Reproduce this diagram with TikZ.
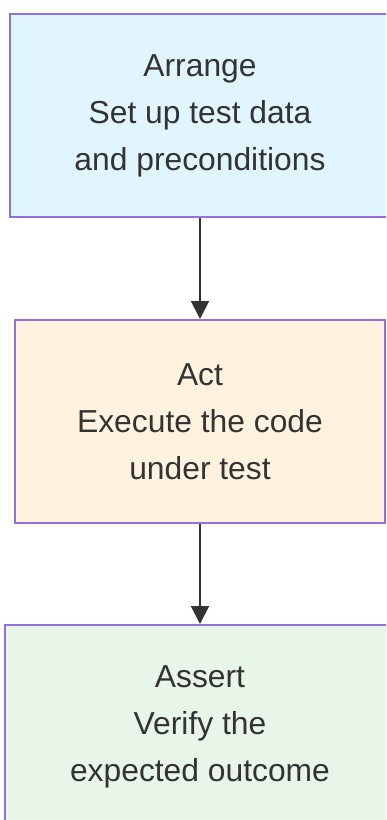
\documentclass[tikz,border=0pt]{standalone}
\usepackage{fontspec}
\setmainfont{Liberation Sans}
\usetikzlibrary{positioning, arrows.meta}
\definecolor{boxborder}{HTML}{9370DB}
\definecolor{arrangefill}{HTML}{E1F5FE}
\definecolor{actfill}{HTML}{FFF3E0}
\definecolor{assertfill}{HTML}{E8F5E9}
\definecolor{textgray}{HTML}{333333}

\begin{document}
\begin{tikzpicture}[x=0.5pt, y=-0.5pt,
    every node/.style={font=\fontsize{15.9}{23.5}\selectfont, align=center, text=textgray},
    stage/.style={draw=boxborder, line width=1pt, minimum height=101.5pt, inner sep=0pt},
    arrow/.style={-{Triangle[length=9pt, width=9pt]}, line width=1pt, draw=textgray},
    node distance=50.5pt
]
\clip (0,0) rectangle (386,820);
% stages
\node[stage, fill=arrangefill, minimum width=190pt] (arrange) at (200,115.5) {Arrange\\Set up test data\\and preconditions};
\node[stage, fill=actfill, minimum width=185pt, below=of arrange] (act) {Act\\Execute the code\\under test};
\node[stage, fill=assertfill, minimum width=195pt, below=50pt of act] (assert) {Assert\\Verify the\\expected outcome};
% arrows
\draw[arrow] (arrange) -- (act);
\draw[arrow] (act) -- (assert);
\end{tikzpicture}
\end{document}
